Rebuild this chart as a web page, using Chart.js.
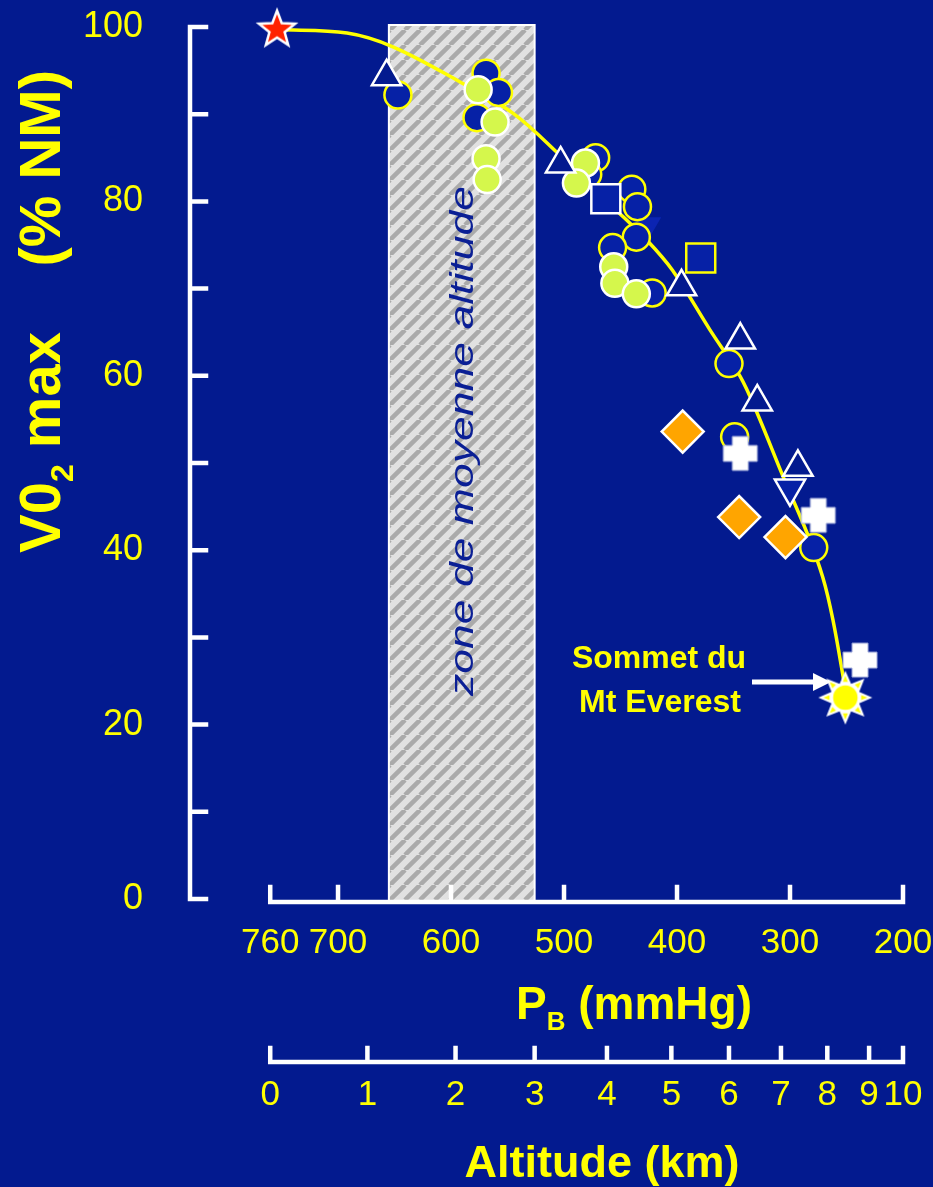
<!DOCTYPE html>
<html lang="fr">
<head>
<meta charset="utf-8">
<title>VO2 max et altitude</title>
<script src="https://cdn.jsdelivr.net/npm/chart.js@4.4.1/dist/chart.umd.min.js"></script>
<style>
  html, body { margin: 0; padding: 0; background: #031a8f; }
  #wrap { width: 933px; height: 1187px; }
</style>
</head>
<body>
<div id="wrap"><canvas id="chart" width="933" height="1187"></canvas></div>
<script>
// Valeurs : x = PB (mmHg), y = VO2max (% du niveau de la mer)
const pressureTicks = [760, 700, 600, 500, 400, 300, 200];
const altitudeKm = [0, 1, 2, 3, 4, 5, 6, 7, 8, 9, 10];
const altitudePressure = [760, 674, 596, 526, 462, 405, 354, 308, 267, 230, 200];
const zonePressure = [655, 526];

const curveP = [754, 692, 651, 592, 545, 506, 457, 427, 404, 371, 344, 329, 306, 285, 271, 262, 251];
const curveV = [99.7, 99.3, 97.7, 93.7, 90.1, 85.6, 79.4, 75.6, 72.1, 65.3, 59.9, 55.7, 48.4, 42.0, 36.9, 32.0, 24.0];

const seaLevel = [[754, 99.7]];
const everest = [[251, 23.1]];
const navyCircles = [
  [647, 92.2], [569, 94.7], [558, 92.5], [577, 89.6], [472, 85.0], [479, 83.1], [440, 81.4],
  [435, 79.4], [436, 75.9], [457, 74.7], [422, 69.5], [354, 61.4], [349, 53.0], [279, 40.3],
];
const greenCircles = [
  [576, 92.8], [561, 89.1], [569, 84.9], [568, 82.5], [481, 84.4], [489, 82.1],
  [456, 72.5], [455, 70.6], [436, 69.4],
];
const triangles = [[657, 94.3], [503, 84.3], [396, 70.2], [344, 64.1], [329, 57.0], [293, 49.5]];
const invertedTriangles = [[300, 47.1]];
const faintTriangles = [[427, 77.2]];
const openSquares = [[463, 80.3]];
const yellowSquares = [[379, 73.5]];
const diamonds = [[395, 53.6], [345, 43.8], [304, 41.5]];
const crosses = [[344, 51.1], [275, 44.0], [238, 27.4]];

const BG = '#031a8f';
const NAVY = '#0621a6';
const YELLOW = '#ffff00';
const GREEN = '#d5f74c';
const ORANGE = '#ffa500';
const FONT = "'Liberation Sans', Arial, sans-serif";
// 831 : l'axe des y se trouve 80 px à gauche de 760 mmHg
const PB_MIN = 200;
const PB_MAX = 831;

const toPoints = (pairs) => pairs.map(([x, y]) => ({ x, y }));

function makeCanvas(size, draw) {
  const c = document.createElement('canvas');
  c.width = c.height = size;
  const g = c.getContext('2d');
  g.translate(size / 2, size / 2);
  draw(g);
  return c;
}

const starImg = makeCanvas(46, (g) => {
  g.beginPath();
  for (let i = 0; i < 10; i++) {
    const r = i % 2 ? 8 : 19;
    const a = (i * Math.PI) / 5 - Math.PI / 2;
    g.lineTo(r * Math.cos(a), r * Math.sin(a));
  }
  g.closePath();
  g.fillStyle = '#ff2200';
  g.fill();
  g.strokeStyle = '#ffffff';
  g.lineWidth = 2.5;
  g.stroke();
});

const crossImg = makeCanvas(40, (g) => {
  const h = 17;
  const w = 8;
  g.beginPath();
  g.moveTo(-w, -h); g.lineTo(w, -h); g.lineTo(w, -w); g.lineTo(h, -w); g.lineTo(h, w);
  g.lineTo(w, w); g.lineTo(w, h); g.lineTo(-w, h); g.lineTo(-w, w); g.lineTo(-h, w);
  g.lineTo(-h, -w); g.lineTo(-w, -w);
  g.closePath();
  g.fillStyle = '#ffffff';
  g.fill();
  g.strokeStyle = '#9ea8d8';
  g.lineWidth = 1;
  g.stroke();
});

const sunImg = makeCanvas(60, (g) => {
  g.beginPath();
  for (let i = 0; i < 16; i++) {
    const r = i % 2 ? 15 : 27;
    const a = (i * Math.PI) / 8 - Math.PI / 2;
    g.lineTo(r * Math.cos(a), r * Math.sin(a));
  }
  g.closePath();
  g.fillStyle = '#ffffff';
  g.fill();
  g.fillStyle = YELLOW;
  for (let i = 0; i < 8; i++) {
    const a = (i * Math.PI) / 4 - Math.PI / 2;
    g.beginPath();
    g.moveTo(22 * Math.cos(a), 22 * Math.sin(a));
    g.lineTo(16 * Math.cos(a - 0.16), 16 * Math.sin(a - 0.16));
    g.lineTo(16 * Math.cos(a + 0.16), 16 * Math.sin(a + 0.16));
    g.closePath();
    g.fill();
  }
  g.beginPath();
  g.arc(0, 0, 13, 0, Math.PI * 2);
  g.fill();
  g.strokeStyle = '#ffffff';
  g.lineWidth = 1.5;
  g.stroke();
});

function hatch(ctx) {
  const n = 15;
  const p = document.createElement('canvas');
  p.width = p.height = n;
  const g = p.getContext('2d');
  g.fillStyle = '#e1e1e1';
  g.fillRect(0, 0, n, n);
  g.strokeStyle = '#aaaaaa';
  g.lineWidth = 4.5;
  g.beginPath();
  for (const o of [-n, 0, n]) {
    g.moveTo(o, n);
    g.lineTo(o + n, 0);
  }
  g.stroke();
  return ctx.createPattern(p, 'repeat');
}

const backgroundPlugin = {
  id: 'background',
  beforeDraw(chart) {
    const { ctx, width, height } = chart;
    ctx.save();
    ctx.fillStyle = BG;
    ctx.fillRect(0, 0, width, height);
    ctx.restore();
  },
};

// zone hachurée + axes blancs avec graduations vers l'intérieur
const zoneAndAxesPlugin = {
  id: 'zoneAndAxes',
  beforeDatasetsDraw(chart) {
    const { ctx, scales: { x, y, alt } } = chart;
    ctx.save();

    const left = x.getPixelForValue(zonePressure[0]);
    const right = x.getPixelForValue(zonePressure[1]);
    const top = y.getPixelForValue(100) - 2;
    const bottom = y.getPixelForValue(0) + 3;
    ctx.fillStyle = hatch(ctx);
    ctx.fillRect(left, top, right - left, bottom - top);
    ctx.strokeStyle = '#ffffff';
    ctx.lineWidth = 2;
    ctx.strokeRect(left, top, right - left, bottom - top);

    ctx.save();
    ctx.translate((left + right) / 2 + 11, (y.getPixelForValue(100) + y.getPixelForValue(0)) / 2 - 22);
    ctx.rotate(-Math.PI / 2);
    ctx.scale(1.31, 1);
    ctx.font = `italic 34px ${FONT}`;
    ctx.fillStyle = '#0a1f95';
    ctx.textAlign = 'center';
    ctx.textBaseline = 'alphabetic';
    ctx.fillText('zone de moyenne altitude', 0, 0);
    ctx.restore();

    ctx.strokeStyle = '#ffffff';
    ctx.lineWidth = 4.5;
    ctx.lineCap = 'square';

    // axe VO2
    const ax = chart.chartArea.left;
    ctx.beginPath();
    ctx.moveTo(ax, y.getPixelForValue(100));
    ctx.lineTo(ax, y.getPixelForValue(0));
    for (const t of y.ticks) {
      const py = y.getPixelForValue(t.value);
      ctx.moveTo(ax, py);
      ctx.lineTo(ax + 16, py);
    }
    ctx.stroke();

    // axe PB
    const by = chart.chartArea.bottom + 3;
    ctx.beginPath();
    ctx.moveTo(x.getPixelForValue(760), by);
    ctx.lineTo(x.getPixelForValue(200), by);
    for (const t of x.ticks) {
      const px = x.getPixelForValue(t.value);
      ctx.moveTo(px, by);
      ctx.lineTo(px, by - 15);
    }
    ctx.stroke();

    // axe altitude
    const ay = alt.top + 13;
    ctx.beginPath();
    ctx.moveTo(alt.getPixelForValue(760), ay);
    ctx.lineTo(alt.getPixelForValue(200), ay);
    for (const t of alt.ticks) {
      const px = alt.getPixelForValue(t.value);
      ctx.moveTo(px, ay);
      ctx.lineTo(px, ay - 14);
    }
    ctx.stroke();

    // flèche vers le sommet
    ctx.lineCap = 'butt';
    ctx.lineWidth = 5;
    ctx.beginPath();
    ctx.moveTo(752, 682);
    ctx.lineTo(816, 682);
    ctx.stroke();
    ctx.fillStyle = '#ffffff';
    ctx.beginPath();
    ctx.moveTo(831, 682);
    ctx.lineTo(813, 673);
    ctx.lineTo(813, 691);
    ctx.closePath();
    ctx.fill();

    ctx.restore();
  },
};

const titlesPlugin = {
  id: 'titles',
  afterDraw(chart) {
    const { ctx } = chart;
    ctx.save();
    ctx.fillStyle = YELLOW;
    ctx.textBaseline = 'alphabetic';

    // titre vertical
    ctx.save();
    ctx.translate(60, 553);
    ctx.rotate(-Math.PI / 2);
    ctx.textAlign = 'left';
    ctx.font = `bold 58px ${FONT}`;
    let cx = 0;
    ctx.fillText('V0', cx, 0);
    cx += ctx.measureText('V0').width;
    ctx.font = `bold 32px ${FONT}`;
    ctx.fillText('2', cx, 13);
    cx += ctx.measureText('2').width;
    ctx.font = `bold 58px ${FONT}`;
    ctx.fillText(' max', cx, 0);
    ctx.textAlign = 'right';
    ctx.fillText('(% NM)', 483, 0);
    ctx.restore();

    // PB (mmHg)
    ctx.textAlign = 'left';
    ctx.font = `bold 46px ${FONT}`;
    let px = 516;
    ctx.fillText('P', px, 1019);
    px += ctx.measureText('P').width;
    ctx.font = `bold 26px ${FONT}`;
    ctx.fillText('B', px, 1030);
    px += ctx.measureText('B').width;
    ctx.font = `bold 46px ${FONT}`;
    ctx.fillText(' (mmHg)', px, 1019);

    ctx.textAlign = 'center';
    ctx.font = `bold 45px ${FONT}`;
    ctx.fillText('Altitude (km)', 602, 1177);

    ctx.font = `bold 32px ${FONT}`;
    ctx.fillText('Sommet du', 659, 668);
    ctx.fillText('Mt Everest', 660, 712);
    ctx.restore();
  },
};

const imagePoints = (label, pairs, img) => ({
  label,
  data: toPoints(pairs),
  pointStyle: img,
  pointRadius: 10,
  clip: false,
});

const markerPoints = (label, pairs, style, radius, fill, stroke, extra = {}) => ({
  label,
  data: toPoints(pairs),
  pointStyle: style,
  pointRadius: radius,
  backgroundColor: fill,
  borderColor: stroke,
  borderWidth: 2.5,
  clip: false,
  ...extra,
});

// les paddings automatiques de Chart.js décaleraient la zone de tracé
const pressureFit = (h) => (s) => {
  s.height = h;
  s.paddingLeft = 0;
  s.paddingRight = 0;
};

new Chart(document.getElementById('chart'), {
  type: 'scatter',
  data: {
    datasets: [
      imagePoints('Everest', everest, sunImg),
      imagePoints('Niveau de la mer', seaLevel, starImg),
      imagePoints('Croix', crosses, crossImg),
      markerPoints('Losanges', diamonds, 'rectRot', 21, ORANGE, '#ffffff'),
      markerPoints('Triangles inversés', invertedTriangles, 'triangle', 17.5, NAVY, '#ffffff', { rotation: 180 }),
      markerPoints('Triangles', triangles, 'triangle', 17, BG, '#ffffff'),
      markerPoints('Carrés', openSquares, 'rect', 20.5, NAVY, '#ffffff'),
      markerPoints('Carrés jaunes', yellowSquares, 'rect', 20.5, NAVY, YELLOW),
      markerPoints('Cercles verts', greenCircles, 'circle', 13.5, GREEN, '#ffffff'),
      markerPoints('Cercles', navyCircles, 'circle', 13.5, NAVY, YELLOW),
      markerPoints('Triangle', faintTriangles, 'triangle', 17, '#0b24b2', '#0b24b2', { rotation: 180, borderWidth: 0 }),
      {
        label: 'Courbe',
        data: curveP.map((p, i) => ({ x: p, y: curveV[i] })),
        showLine: true,
        tension: 0.35,
        borderColor: YELLOW,
        borderWidth: 3.5,
        pointRadius: 0,
        fill: false,
        clip: false,
      },
    ],
  },
  options: {
    responsive: false,
    animation: false,
    events: [],
    layout: { padding: { top: 27, right: 30, bottom: 0, left: 0 } },
    plugins: { legend: { display: false }, tooltip: { enabled: false } },
    scales: {
      x: {
        type: 'linear',
        position: 'bottom',
        reverse: true,
        min: PB_MIN,
        max: PB_MAX,
        weight: 0,
        grid: { display: false, drawTicks: false },
        border: { display: false },
        ticks: {
          color: YELLOW,
          font: { family: FONT, size: 35 },
          padding: 23,
          autoSkip: false,
          maxRotation: 0,
          minRotation: 0,
          callback: (v) => String(v),
        },
        afterBuildTicks: (s) => { s.ticks = pressureTicks.map((v) => ({ value: v })); },
        afterFit: pressureFit(150),
      },
      alt: {
        type: 'linear',
        position: 'bottom',
        reverse: true,
        min: PB_MIN,
        max: PB_MAX,
        weight: 1,
        grid: { display: false, drawTicks: false },
        border: { display: false },
        ticks: {
          color: YELLOW,
          font: { family: FONT, size: 35 },
          padding: 25,
          autoSkip: false,
          maxRotation: 0,
          minRotation: 0,
          callback: (v, i) => String(altitudeKm[i]),
        },
        afterBuildTicks: (s) => { s.ticks = altitudePressure.map((v) => ({ value: v })); },
        afterFit: pressureFit(138),
      },
      y: {
        type: 'linear',
        position: 'left',
        min: 0,
        max: 100,
        grid: { display: false, drawTicks: false },
        border: { display: false },
        ticks: {
          stepSize: 10,
          color: YELLOW,
          font: { family: FONT, size: 36 },
          padding: 47,
          callback: (v) => (v % 20 === 0 ? String(v) : ''),
        },
        afterFit: (s) => {
          s.width = 190;
          s.paddingTop = 0;
          s.paddingBottom = 0;
        },
      },
    },
  },
  plugins: [backgroundPlugin, zoneAndAxesPlugin, titlesPlugin],
});
</script>
</body>
</html>
